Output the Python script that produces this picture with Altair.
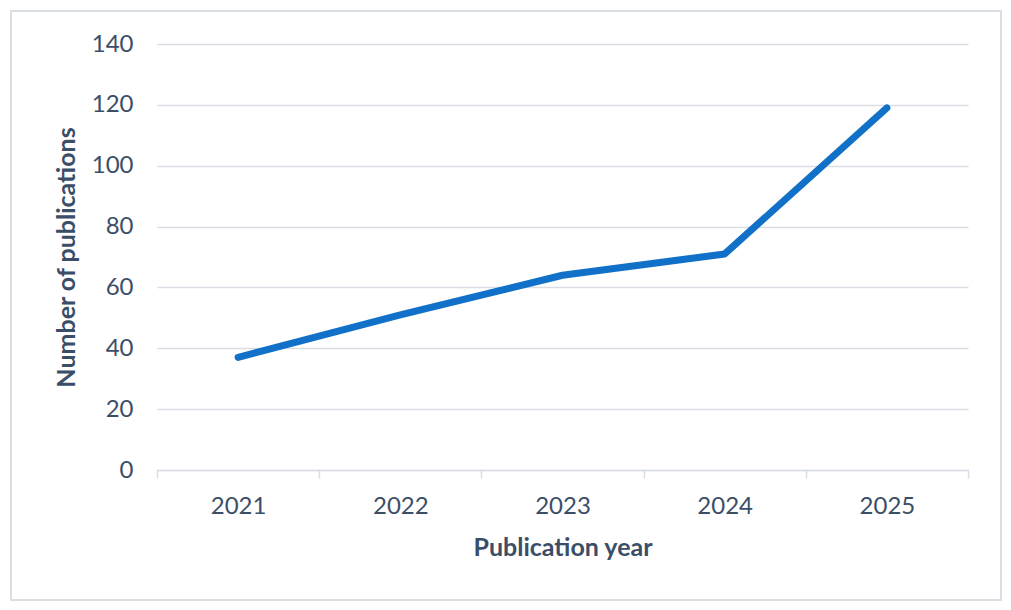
import pandas as pd
import altair as alt

years = ["2021", "2022", "2023", "2024", "2025"]
publications = [37, 51, 64, 71, 119]

df = pd.DataFrame({"year": years, "count": publications})

text_color = "#3B4E67"
grid_color = "#D9DEE5"
font = "Lato"

line = (
    alt.Chart(df)
    .mark_line(color="#1170C8", strokeWidth=7, strokeCap="round", strokeJoin="round")
    .encode(
        x=alt.X(
            "year:N",
            title="Publication year",
            sort=years,
            scale=alt.Scale(paddingInner=0, paddingOuter=0),
            axis=alt.Axis(
                labelAngle=0,
                grid=False,
                domainColor=grid_color,
                domainWidth=1.5,
                tickColor=grid_color,
                tickWidth=1.5,
                tickSize=8,
                tickBand="extent",
                labelPadding=16,
                titlePadding=17,
            ),
        ),
        y=alt.Y(
            "count:Q",
            title="Number of publications",
            scale=alt.Scale(domain=[0, 140], nice=False),
            axis=alt.Axis(
                values=list(range(0, 141, 20)),
                domain=False,
                ticks=False,
                gridColor=grid_color,
                gridWidth=1.5,
                labelPadding=24,
                titlePadding=12,
            ),
        ),
    )
)

# outer frame around the whole chart
frame = (
    alt.Chart(df)
    .mark_rect(fill=None, stroke=grid_color, strokeWidth=1.5)
    .encode(
        x=alt.value(-146),
        x2=alt.value(844),
        y=alt.value(-33),
        y2=alt.value(556),
    )
)

chart = (
    alt.layer(frame, line)
    .properties(
        width=811,
        height=426,
        autosize=alt.AutoSizeParams(type="none"),
        padding={"left": 149, "top": 36, "right": 34, "bottom": 131},
    )
    .configure_view(stroke=None)
    .configure_axis(
        labelFont=font,
        titleFont=font,
        labelFontSize=24,
        titleFontSize=25,
        labelColor=text_color,
        titleColor=text_color,
        titleFontWeight="bold",
    )
)

chart.save("out.html", embed_options={"renderer": "svg", "actions": False})
